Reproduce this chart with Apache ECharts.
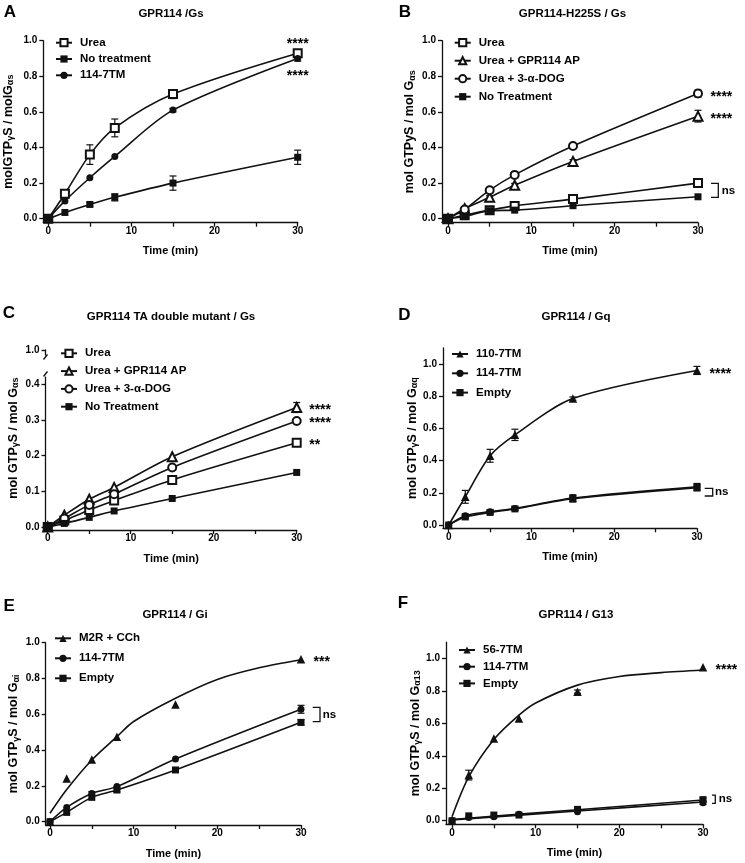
<!DOCTYPE html>
<html><head><meta charset="utf-8">
<script src="https://cdn.jsdelivr.net/npm/echarts@6/dist/echarts.min.js"></script>
<style>html,body{margin:0;padding:0;background:#fff}#c{width:745px;height:863px}</style>
</head><body><div id="c"></div>
<script>
// ---------- data ----------
const time = [0, 2, 5, 8, 15, 30];
const xTicks = [0, 5, 10, 15, 20, 25, 30];
const xLabels = [0, 10, 20, 30];
const yTicks = [0, 0.2, 0.4, 0.6, 0.8, 1.0];
const yTicksC = [0, 0.1, 0.2, 0.3, 0.4];
const yTicksCTop = [1.0];

// A  GPR114 /Gs
const aUrea = [0, 0.14, 0.36, 0.51, 0.70, 0.93];
const aUreaErr = [0, 0.01, 0.055, 0.05, 0.025, 0.015];
const aNoTreat = [0, 0.035, 0.08, 0.12, 0.20, 0.345];
const aNoTreatErr = [0, 0, 0.01, 0.02, 0.04, 0.04];
const a114 = [0, 0.10, 0.23, 0.35, 0.61, 0.90];
const a114Err = [0, 0, 0, 0, 0.01, 0.015];
const starsA = [[30, 1.0, '****'], [30, 0.82, '****']];

// B  GPR114-H225S / Gs
const bUrea = [0, 0.02, 0.048, 0.072, 0.11, 0.20];
const bUreaErr = [0, 0, 0, 0, 0.01, 0.015];
const bAP = [0, 0.056, 0.12, 0.188, 0.322, 0.576];
const bAPErr = [0, 0, 0.01, 0.01, 0.01, 0.033];
const bDOG = [0, 0.052, 0.16, 0.246, 0.408, 0.703];
const bDOGErr = [0, 0, 0, 0, 0, 0.02];
const bNoTreat = [0, 0.012, 0.045, 0.048, 0.073, 0.123];
const bNoTreatErr = [0, 0, 0, 0, 0, 0];
const starsB = [[30, 0.70, '****'], [30, 0.578, '****']];
const bracketB = [[30, 0.198, 0.12, 'ns']];

// C  GPR114 TA double mutant / Gs
const cUrea = [0, 0.018, 0.048, 0.074, 0.132, 0.236];
const cAP = [0, 0.033, 0.078, 0.111, 0.197, 0.335];
const cAPErr = [0, 0, 0, 0, 0, 0.014];
const cDOG = [0, 0.024, 0.062, 0.092, 0.167, 0.297];
const cNoTreat = [0, 0.01, 0.027, 0.045, 0.08, 0.153];
const zeroErr = [0, 0, 0, 0, 0, 0];
const starsC = [[30, 0.337, '****'], [30, 0.30, '****'], [30, 0.239, '**']];

// D  GPR114 / Gq
const d110 = [0, 0.175, 0.43, 0.56, 0.785, 0.96];
const d110Err = [0, 0.04, 0.04, 0.035, 0.01, 0.025];
const d114 = [0, 0.058, 0.083, 0.103, 0.168, 0.238];
const d114Err = [0, 0.01, 0.01, 0.01, 0.02, 0.02];
const dEmpty = [0, 0.05, 0.078, 0.10, 0.163, 0.232];
const dEmptyErr = [0, 0.01, 0.01, 0.01, 0.02, 0.02];
const starsD = [[30, 0.958, '****']];
const bracketD = [[30, 0.228, 0.18, 'ns']];

// E  GPR114 / Gi
const eM2R = [0, 0.242, 0.348, 0.475, 0.655, 0.907];
const eM2RFitX = [0, 2, 5, 8, 10, 15, 20, 25, 30];
const eM2RFit = [0.047, 0.18, 0.345, 0.475, 0.56, 0.69, 0.795, 0.86, 0.905];
const e114 = [0, 0.08, 0.158, 0.196, 0.35, 0.628];
const e114Err = [0, 0, 0.01, 0, 0, 0.022];
const eEmpty = [0, 0.052, 0.136, 0.177, 0.289, 0.555];
const eEmptyErr = [0, 0, 0, 0.01, 0, 0.015];
const starsE = [[30, 0.907, '***']];
const bracketE = [[30, 0.639, 0.559, 'ns']];

// F  GPR114 / G13
const f56 = [0, 0.281, 0.507, 0.63, 0.795, 0.945];
const f56Err = [0, 0.03, 0, 0, 0.01, 0];
const f56FitX = [0, 2, 5, 8, 10, 15, 20, 25, 30];
const f56Fit = [0.025, 0.27, 0.50, 0.65, 0.725, 0.835, 0.888, 0.912, 0.928];
const f114 = [0, 0.02, 0.025, 0.04, 0.055, 0.11];
const f114FitX = [0, 15, 30];
const f114Fit = [0.005, 0.06, 0.115];
const fEmpty = [0, 0.03, 0.035, 0.035, 0.07, 0.13];
const fEmptyFitX = [0, 15, 30];
const fEmptyFit = [0.008, 0.068, 0.128];
const fErr = [0, 0, 0, 0, 0, 0.01];
const starsF = [[30, 0.944, '****']];
const bracketF = [[30, 0.158, 0.107, 'ns']];

// ---------- styling / layout ----------
const FONT = "'Liberation Sans', Arial, Helvetica, sans-serif";
const INK = '#111';
const MARK = {
  openSquare:   { symbol: 'emptyRect', size: 8, bw: 1.5 },
  square:       { symbol: 'rect', size: 7, bw: 0 },
  circle:       { symbol: 'circle', size: 7, bw: 0 },
  openCircle:   { symbol: 'emptyCircle', size: 8, bw: 1.5 },
  openTriangle: { symbol: 'emptyTriangle', size: 9, bw: 1.5 },
  triangle:     { symbol: 'triangle', size: 8.5, bw: 0 }
};
const rich = {
  n: { fontSize: 12.5, fontWeight: 'bold', fontFamily: FONT, color: '#000', lineHeight: 14 },
  s: { fontSize: 9, fontWeight: 'bold', fontFamily: FONT, color: '#000', lineHeight: 11, verticalAlign: 'bottom' }
};

const panels = [
  { letter: 'A', letterXY: [10, 12], title: 'GPR114 /Gs', titleXY: [171, 14],
    rect: [43.3, 40.7, 254.4, 182], xMin: -0.6, yMin: -0.0225, yMax: 1.0, yTicks: yTicks,
    yName: '{n|molGTP}{s|γ}{n|S / molG}{s|αs}', yNameGap: 28, yNamePad: 0,
    legend: { left: 55, top: 36.7, gap: 4.3 },
    series: [
      { name: 'Urea', y: aUrea, err: aUreaErr, m: 'openSquare' },
      { name: 'No treatment', y: aNoTreat, err: aNoTreatErr, m: 'square' },
      { name: '114-7TM', y: a114, err: a114Err, m: 'circle' }
    ],
    stars: starsA, starMode: 'stack', brackets: [] },
  { letter: 'B', letterXY: [405, 12], title: 'GPR114-H225S / Gs', titleXY: [572.5, 14],
    rect: [442, 40.7, 256, 182], xMin: -0.72, yMin: -0.0225, yMax: 1.0, yTicks: yTicks,
    yName: '{n|mol GTPyS / mol G}{s|αs}', yNameGap: 25, yNamePad: 0,
    legend: { left: 453.7, top: 36.7, gap: 6 },
    series: [
      { name: 'Urea', y: bUrea, err: bUreaErr, m: 'openSquare' },
      { name: 'Urea + GPR114 AP', y: bAP, err: bAPErr, m: 'openTriangle' },
      { name: 'Urea + 3-α-DOG', y: bDOG, err: bDOGErr, m: 'openCircle' },
      { name: 'No Treatment', y: bNoTreat, err: bNoTreatErr, m: 'square' }
    ],
    stars: starsB, starMode: 'right', brackets: bracketB, br: [13, 20.3, 23.7] },
  { letter: 'C', letterXY: [9, 313.8], title: 'GPR114 TA double mutant / Gs', titleXY: [171, 317],
    rect: [45.5, 377.2, 251.2, 152.8], xMin: -0.27, yMin: -0.0084, yMax: 0.42, yTicks: yTicksC,
    upper: { rect: [45.5, 350, 251.2, 5], min: 0.986, max: 1.0, ticks: yTicksCTop },
    yName: '{n|mol GTP}{s|γ}{n|S / mol G}{s|αs}', yNameGap: 25, yNamePad: 31,
    legend: { left: 60, top: 347.3, gap: 5.8 },
    series: [
      { name: 'Urea', y: cUrea, err: zeroErr, m: 'openSquare' },
      { name: 'Urea + GPR114 AP', y: cAP, err: cAPErr, m: 'openTriangle' },
      { name: 'Urea + 3-α-DOG', y: cDOG, err: zeroErr, m: 'openCircle' },
      { name: 'No Treatment', y: cNoTreat, err: zeroErr, m: 'square' }
    ],
    stars: starsC, starMode: 'right', brackets: [] },
  { letter: 'D', letterXY: [404.5, 315.3], title: 'GPR114 / Gq', titleXY: [576, 316.7],
    rect: [443, 347.9, 254, 180.4], xMin: -0.69, yMin: -0.0205, yMax: 1.1, yTicks: yTicks,
    yName: '{n|mol GTP}{s|γ}{n|S / mol G}{s|αq}', yNameGap: 21, yNamePad: 0,
    legend: { left: 451, top: 348, gap: 7.3 },
    series: [
      { name: '110-7TM', y: d110, err: d110Err, m: 'triangle' },
      { name: '114-7TM', y: d114, err: d114Err, m: 'circle' },
      { name: 'Empty', y: dEmpty, err: dEmptyErr, m: 'square' }
    ],
    stars: starsD, starMode: 'right', brackets: bracketD, br: [7.7, 15.7, 18] },
  { letter: 'E', letterXY: [9.2, 606.2], title: 'GPR114 / Gi', titleXY: [175, 615],
    rect: [45.7, 642.7, 255.3, 182.3], xMin: -0.51, yMin: -0.0184, yMax: 1.0, yTicks: yTicks,
    yName: '{n|mol GTP}{s|γ}{n|S / mol G}{s|αi}', yNameGap: 25, yNamePad: 0,
    legend: { left: 54, top: 632.3, gap: 8 },
    series: [
      { name: 'M2R + CCh', y: eM2R, err: zeroErr, m: 'triangle', fitX: eM2RFitX, fit: eM2RFit },
      { name: '114-7TM', y: e114, err: e114Err, m: 'circle' },
      { name: 'Empty', y: eEmpty, err: eEmptyErr, m: 'square' }
    ],
    stars: starsE, starMode: 'right', brackets: bracketE, br: [11.7, 19, 21.7] },
  { letter: 'F', letterXY: [403, 603.7], title: 'GPR114 / G13', titleXY: [576, 615],
    rect: [446, 642.1, 257, 182.2], xMin: -0.72, yMin: -0.022, yMax: 1.1, yTicks: yTicks,
    yName: '{n|mol GTP}{s|γ}{n|S / mol G}{s|α13}', yNameGap: 23, yNamePad: 0,
    legend: { left: 458, top: 644, gap: 4.7 },
    series: [
      { name: '56-7TM', y: f56, err: f56Err, m: 'triangle', fitX: f56FitX, fit: f56Fit },
      { name: '114-7TM', y: f114, err: fErr, m: 'circle', fitX: f114FitX, fit: f114Fit },
      { name: 'Empty', y: fEmpty, err: fErr, m: 'square', fitX: fEmptyFitX, fit: fEmptyFit }
    ],
    stars: starsF, starMode: 'right', brackets: bracketF, br: [9, 12.3, 15.7] }
];

// ---------- build option ----------
const grids = [], xAxes = [], yAxes = [], series = [], legends = [], graphics = [];
const lineSty = { color: INK, width: 1.3 };
const labelSty = { color: '#000', fontSize: 10, fontWeight: 'bold', fontFamily: FONT };

function pushGrid(rect) {
  grids.push({ left: rect[0], top: rect[1], width: rect[2], height: rect[3] });
  return grids.length - 1;
}

panels.forEach(p => {
  const gi = pushGrid(p.rect);
  xAxes.push({
    type: 'value', gridIndex: gi, min: p.xMin, max: 30,
    axisLine: { show: true, onZero: false, lineStyle: lineSty },
    axisTick: { show: true, length: 4, customValues: xTicks, lineStyle: lineSty },
    axisLabel: Object.assign({ customValues: xLabels, margin: 3.5 }, labelSty),
    splitLine: { show: false },
    name: 'Time (min)', nameLocation: 'middle', nameGap: 23,
    nameTextStyle: { color: '#000', fontSize: 11, fontWeight: 'bold', fontFamily: FONT }
  });
  yAxes.push({
    type: 'value', gridIndex: gi, min: p.yMin, max: p.yMax,
    axisLine: { show: true, onZero: false, lineStyle: lineSty },
    axisTick: { show: true, length: 4, customValues: p.yTicks, lineStyle: lineSty },
    axisLabel: Object.assign({ customValues: p.yTicks, margin: 6, formatter: v => (+v).toFixed(1) }, labelSty),
    splitLine: { show: false },
    name: p.yName, nameLocation: 'middle', nameGap: p.yNameGap,
    nameTextStyle: { rich: rich, padding: [0, 0, 0, p.yNamePad] }
  });
  if (p.upper) {
    const ui = pushGrid(p.upper.rect);
    xAxes.push({ type: 'value', gridIndex: ui, min: p.xMin, max: 30, show: false });
    yAxes.push({
      type: 'value', gridIndex: ui, min: p.upper.min, max: p.upper.max,
      axisLine: { show: true, onZero: false, lineStyle: lineSty },
      axisTick: { show: true, length: 4, customValues: p.upper.ticks, lineStyle: lineSty },
      axisLabel: Object.assign({ customValues: p.upper.ticks, margin: 6, formatter: v => (+v).toFixed(1) }, labelSty),
      splitLine: { show: false }
    });
  }

  // error bars
  const errData = [];
  p.series.forEach(s => time.forEach((t, i) => {
    if (s.err[i] > 0) errData.push([t, s.y[i] - s.err[i], s.y[i] + s.err[i]]);
  }));
  series.push({
    type: 'custom', xAxisIndex: gi, yAxisIndex: gi, data: errData, clip: false, silent: true, z: 3,
    encode: { x: 0, y: [1, 2] },
    renderItem: (params, api) => {
      const x = api.value(0);
      const a = api.coord([x, api.value(1)]), b = api.coord([x, api.value(2)]);
      const st = { stroke: INK, lineWidth: 1.2 };
      return { type: 'group', children: [
        { type: 'line', shape: { x1: a[0], y1: a[1], x2: b[0], y2: b[1] }, style: st },
        { type: 'line', shape: { x1: a[0] - 3.5, y1: a[1], x2: a[0] + 3.5, y2: a[1] }, style: st },
        { type: 'line', shape: { x1: b[0] - 3.5, y1: b[1], x2: b[0] + 3.5, y2: b[1] }, style: st }
      ]};
    }
  });

  p.series.forEach(s => {
    const mk = MARK[s.m];
    const pts = time.map((t, i) => [t, s.y[i]]);
    const common = {
      xAxisIndex: gi, yAxisIndex: gi, symbol: mk.symbol, symbolSize: mk.size,
      itemStyle: { color: INK, borderColor: INK, borderWidth: mk.bw, opacity: 1 },
      lineStyle: { color: INK, width: 1.6 }, clip: false, z: 4, silent: true
    };
    if (s.fit) {
      series.push(Object.assign({}, common, {
        type: 'line', name: s.name, showSymbol: false, smooth: 0.3,
        data: s.fitX.map((t, i) => [t, s.fit[i]])
      }));
      series.push(Object.assign({}, common, {
        type: 'scatter', name: s.name + ' (points)', data: pts, z: 5
      }));
    } else {
      series.push(Object.assign({}, common, {
        type: 'line', name: s.name, showSymbol: true, smooth: 0.3, data: pts
      }));
    }
  });

  // significance annotations
  const stars = p.stars, brackets = p.brackets, br = p.br, mode = p.starMode;
  series.push({
    type: 'custom', xAxisIndex: gi, yAxisIndex: gi, clip: false, silent: true, z: 6,
    data: stars.map(s => [s[0], s[1]]), encode: { x: 0, y: 1 },
    renderItem: (params, api) => {
      const s = stars[params.dataIndex];
      const c = api.coord([s[0], s[1]]);
      return { type: 'text', x: mode === 'stack' ? c[0] : c[0] + 12.5, y: c[1] + 3.2,
        style: { text: s[2], fill: '#000', fontSize: 14, fontWeight: 'bold', fontFamily: FONT,
          align: mode === 'stack' ? 'center' : 'left', verticalAlign: 'middle' } };
    }
  });
  if (brackets.length) {
    series.push({
      type: 'custom', xAxisIndex: gi, yAxisIndex: gi, clip: false, silent: true, z: 6,
      data: brackets.map(b => [b[0], b[1], b[2]]), encode: { x: 0, y: [1, 2] },
      renderItem: (params, api) => {
        const b = brackets[params.dataIndex];
        const t = api.coord([b[0], b[1]]), d = api.coord([b[0], b[2]]);
        const x1 = t[0] + br[0], x2 = t[0] + br[1];
        return { type: 'group', children: [
          { type: 'polyline', shape: { points: [[x1, t[1]], [x2, t[1]], [x2, d[1]], [x1, d[1]]] },
            style: { stroke: INK, lineWidth: 1.3, fill: null } },
          { type: 'text', x: t[0] + br[2], y: (t[1] + d[1]) / 2,
            style: { text: b[3], fill: '#000', fontSize: 11.5, fontWeight: 'bold', fontFamily: FONT,
              align: 'left', verticalAlign: 'middle' } }
        ]};
      }
    });
  }

  legends.push({
    orient: 'vertical', left: p.legend.left, top: p.legend.top, itemGap: p.legend.gap,
    itemWidth: 16, itemHeight: 9, padding: 0, selectedMode: false,
    data: p.series.map(s => s.name),
    textStyle: { color: '#000', fontSize: 11.5, fontWeight: 'bold', fontFamily: FONT, lineHeight: 12, padding: [0, 0, 0, 3] }
  });

  graphics.push({ type: 'text', x: p.titleXY[0], y: p.titleXY[1], silent: true,
    style: { text: p.title, fill: '#000', fontSize: 11.5, fontWeight: 'bold', fontFamily: FONT, align: 'center', verticalAlign: 'middle' } });
  graphics.push({ type: 'text', x: p.letterXY[0], y: p.letterXY[1], silent: true,
    style: { text: p.letter, fill: '#000', fontSize: 17, fontWeight: 'bold', fontFamily: FONT, align: 'center', verticalAlign: 'middle' } });
});

// broken-axis marks for panel C
graphics.push({ type: 'line', silent: true, shape: { x1: 43.5, y1: 359.5, x2: 47.5, y2: 354.5 }, style: { stroke: INK, lineWidth: 1.3 } });
graphics.push({ type: 'line', silent: true, shape: { x1: 43.5, y1: 376.5, x2: 47.5, y2: 371.5 }, style: { stroke: INK, lineWidth: 1.3 } });

const chart = echarts.init(document.getElementById('c'), null, { renderer: 'canvas' });
chart.setOption({
  animation: false,
  backgroundColor: '#fff',
  grid: grids, xAxis: xAxes, yAxis: yAxes, legend: legends, series: series, graphic: graphics
});
</script></body></html>
